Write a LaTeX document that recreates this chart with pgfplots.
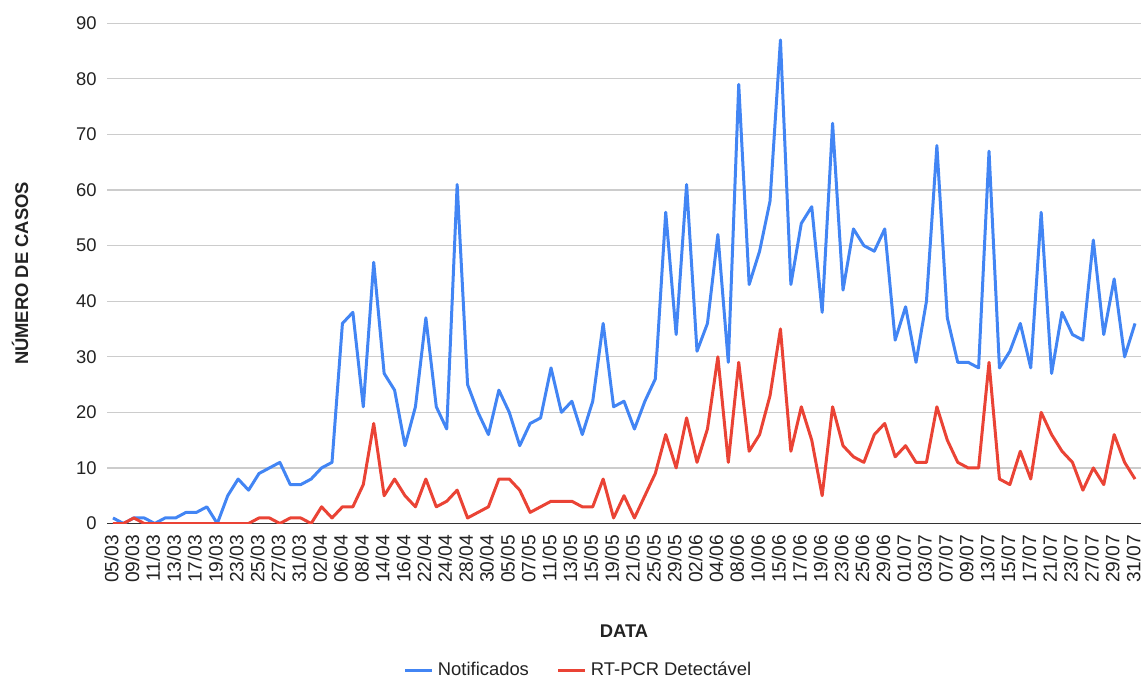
\documentclass[border=0pt]{standalone}
\usepackage{fontspec}
\setmainfont{Liberation Sans}
\usepackage{pgfplots}
\usepackage{pgfplotstable}
\pgfplotsset{compat=1.18}

\definecolor{notif}{HTML}{4285F4}
\definecolor{rtpcr}{HTML}{EA4335}
\definecolor{gridgray}{HTML}{CCCCCC}
\definecolor{axisdark}{HTML}{333333}
\definecolor{labgray}{HTML}{222222}

% idx: position of the report date (one every other date labelled)
\pgfplotstableread{
idx notif rtpcr
0 1 0
1 0 0
2 1 1
3 1 0
4 0 0
5 1 0
6 1 0
7 2 0
8 2 0
9 3 0
10 0 0
11 5 0
12 8 0
13 6 0
14 9 1
15 10 1
16 11 0
17 7 1
18 7 1
19 8 0
20 10 3
21 11 1
22 36 3
23 38 3
24 21 7
25 47 18
26 27 5
27 24 8
28 14 5
29 21 3
30 37 8
31 21 3
32 17 4
33 61 6
34 25 1
35 20 2
36 16 3
37 24 8
38 20 8
39 14 6
40 18 2
41 19 3
42 28 4
43 20 4
44 22 4
45 16 3
46 22 3
47 36 8
48 21 1
49 22 5
50 17 1
51 22 5
52 26 9
53 56 16
54 34 10
55 61 19
56 31 11
57 36 17
58 52 30
59 29 11
60 79 29
61 43 13
62 49 16
63 58 23
64 87 35
65 43 13
66 54 21
67 57 15
68 38 5
69 72 21
70 42 14
71 53 12
72 50 11
73 49 16
74 53 18
75 33 12
76 39 14
77 29 11
78 40 11
79 68 21
80 37 15
81 29 11
82 29 10
83 28 10
84 67 29
85 28 8
86 31 7
87 36 13
88 28 8
89 56 20
90 27 16
91 38 13
92 34 11
93 33 6
94 51 10
95 34 7
96 44 16
97 30 11
98 36 8
}\casos

\begin{document}
\begin{tikzpicture}
\begin{axis}[
  at={(0,0)}, anchor=south west,
  scale only axis,
  width=517pt, height=250.1pt,
  xmin=-0.575, xmax=98.575,
  ymin=0, ymax=90,
  axis lines*=left,
  x axis line style={draw=axisdark, line width=0.6pt},
  y axis line style={draw=none},
  major tick length=0pt,
  ytick={0,10,...,90},
  ymajorgrids,
  grid style={draw=gridgray, line width=0.6pt},
  xtick={0,2,...,98},
  xticklabels={05/03,09/03,11/03,13/03,17/03,19/03,23/03,25/03,27/03,31/03,
    02/04,06/04,08/04,14/04,16/04,22/04,24/04,28/04,30/04,05/05,
    07/05,11/05,13/05,15/05,19/05,21/05,25/05,29/05,02/06,04/06,
    08/06,10/06,15/06,17/06,19/06,23/06,25/06,29/06,01/07,03/07,
    07/07,09/07,13/07,15/07,17/07,21/07,23/07,27/07,29/07,31/07},
  xticklabel shift=5.5pt,
  xticklabel style={rotate=90, anchor=east, yshift=0.8pt, font=\fontsize{9.6}{10}\selectfont, text=labgray, inner sep=0pt},
  yticklabel style={font=\fontsize{9.2}{10}\selectfont, text=labgray, anchor=east, inner sep=0pt, xshift=-5pt},
  /pgf/number format/assume math mode=true,
  xlabel={DATA},
  ylabel={NÚMERO DE CASOS},
  xlabel style={at={(axis description cs:0.50,-0.215)}, anchor=center, font=\bfseries\fontsize{9.2}{10}\selectfont, text=labgray},
  ylabel style={at={(axis description cs:-0.084,0.5)}, anchor=center, font=\bfseries\fontsize{9.2}{10}\selectfont, text=labgray},
  legend columns=2,
  legend style={at={(axis description cs:0.457,-0.293)}, anchor=center, draw=none, fill=none,
    font=\fontsize{9.2}{10}\selectfont, text=labgray,
    /tikz/every even column/.append style={column sep=12pt}},
  legend image code/.code={\draw[#1] (0pt,0pt) -- (13.5pt,0pt);},
]
\addplot[notif, line width=1.5pt, line join=round] table[x=idx, y=notif] {\casos};
\addlegendentry{Notificados}
\addplot[rtpcr, line width=1.5pt, line join=round] table[x=idx, y=rtpcr] {\casos};
\addlegendentry{RT-PCR Detectável}
\end{axis}
\path[use as bounding box] (-53.5pt,-78.75pt) rectangle (518pt,261.75pt);
\end{tikzpicture}
\end{document}
